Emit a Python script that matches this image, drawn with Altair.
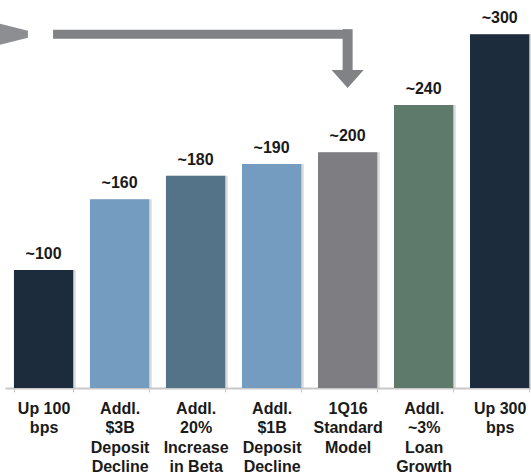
import altair as alt
import pandas as pd

# ---- data ----
categories = [
    "Up 100|bps",
    "Addl.|$3B|Deposit|Decline",
    "Addl.|20%|Increase|in Beta",
    "Addl.|$1B|Deposit|Decline",
    "1Q16|Standard|Model",
    "Addl.|~3%|Loan|Growth",
    "Up 300|bps",
]
values = [100, 160, 180, 190, 200, 240, 300]
value_labels = ["~100", "~160", "~180", "~190", "~200", "~240", "~300"]

# annotation arrow (data units on the y axis)
arrow_level = 300
arrow_drop_end = 268
arrow_head_at = 262

# ---- styles ----
bar_colors = ["#1c2c3c", "#749bc0", "#547388", "#749bc0", "#7e7e82", "#5d7a6b", "#1c2c3c"]
ARROW = "#818286"
TEXT = "#1a1a1a"
FONT = "Liberation Sans"

df = pd.DataFrame({"cat": categories, "value": values, "label": value_labels})

x_scale = alt.Scale(domain=categories, paddingInner=0.22, paddingOuter=0.07, align=0.84)
y_scale = alt.Scale(domain=[0, 329], nice=False, zero=True)

x_enc = alt.X(
    "cat:N",
    sort=categories,
    scale=x_scale,
    axis=alt.Axis(
        title=None,
        labelExpr="split(datum.label, '|')",
        labelAngle=0,
        labelFont=FONT,
        labelFontSize=16,
        labelFontWeight="bold",
        labelColor=TEXT,
        labelLineHeight=19.5,
        labelPadding=8,
        labelOverlap=False,
        tickBand="extent",
        tickSize=4,
        tickColor="#c8c8c8",
        domainColor="#c8c8c8",
        domainWidth=2,
        grid=False,
    ),
)
y_enc = alt.Y("value:Q", scale=y_scale, axis=None)

base = alt.Chart(df)

shadows = base.mark_bar(color="#b5b5b5", opacity=0.5, xOffset=2.5).encode(
    x=x_enc, y=y_enc
)

bars = base.mark_bar().encode(
    x=x_enc,
    y=y_enc,
    color=alt.Color("cat:N", scale=alt.Scale(domain=categories, range=bar_colors), legend=None),
)

texts = base.mark_text(
    dy=-11, baseline="alphabetic", font=FONT, fontSize=16, fontWeight="bold", color=TEXT
).encode(x=alt.X("cat:N", sort=categories), y="value:Q", text="label:N")

one = pd.DataFrame({"k": [0]})

arrow_h = alt.Chart(one).mark_rule(color=ARROW, strokeWidth=9).encode(
    x=alt.X(datum=categories[0], type="nominal", bandPosition=0.66),
    x2=alt.X2(datum=categories[4], bandPosition=0.5),
    y=alt.Y(datum=arrow_level, type="quantitative"),
)
arrow_v = alt.Chart(one).mark_rule(color=ARROW, strokeWidth=10, strokeCap="square").encode(
    x=alt.X(datum=categories[4], type="nominal", bandPosition=0.5),
    y=alt.Y(datum=arrow_level, type="quantitative"),
    y2=alt.Y2(datum=arrow_drop_end),
)
arrow_head = alt.Chart(one).mark_point(
    shape="M-1,-0.56L1,-0.56L0,0.56Z", size=1024, filled=True, color=ARROW, opacity=1, strokeWidth=0
).encode(
    x=alt.X(datum=categories[4], type="nominal", bandPosition=0.5),
    y=alt.Y(datum=arrow_head_at, type="quantitative"),
)
arrow_tail = alt.Chart(one).mark_point(
    shape="M-1,-0.75L1,-0.25L1,0.25L-1,0.75Z", size=784, filled=True, color=ARROW, opacity=0.9, strokeWidth=0
).encode(
    x=alt.X(datum=categories[0], type="nominal", bandPosition=0),
    y=alt.Y(datum=arrow_level, type="quantitative"),
)

chart = (
    alt.layer(shadows, bars, texts, arrow_h, arrow_v, arrow_head, arrow_tail)
    .properties(
        width=526,
        height=388,
        padding={"left": 5, "top": 0, "right": 0, "bottom": 88},
        autosize=alt.AutoSizeParams(type="none"),
        background="white",
    )
    .configure_view(stroke=None)
)

chart.save("out.html", embed_options={"renderer": "svg", "actions": False})
